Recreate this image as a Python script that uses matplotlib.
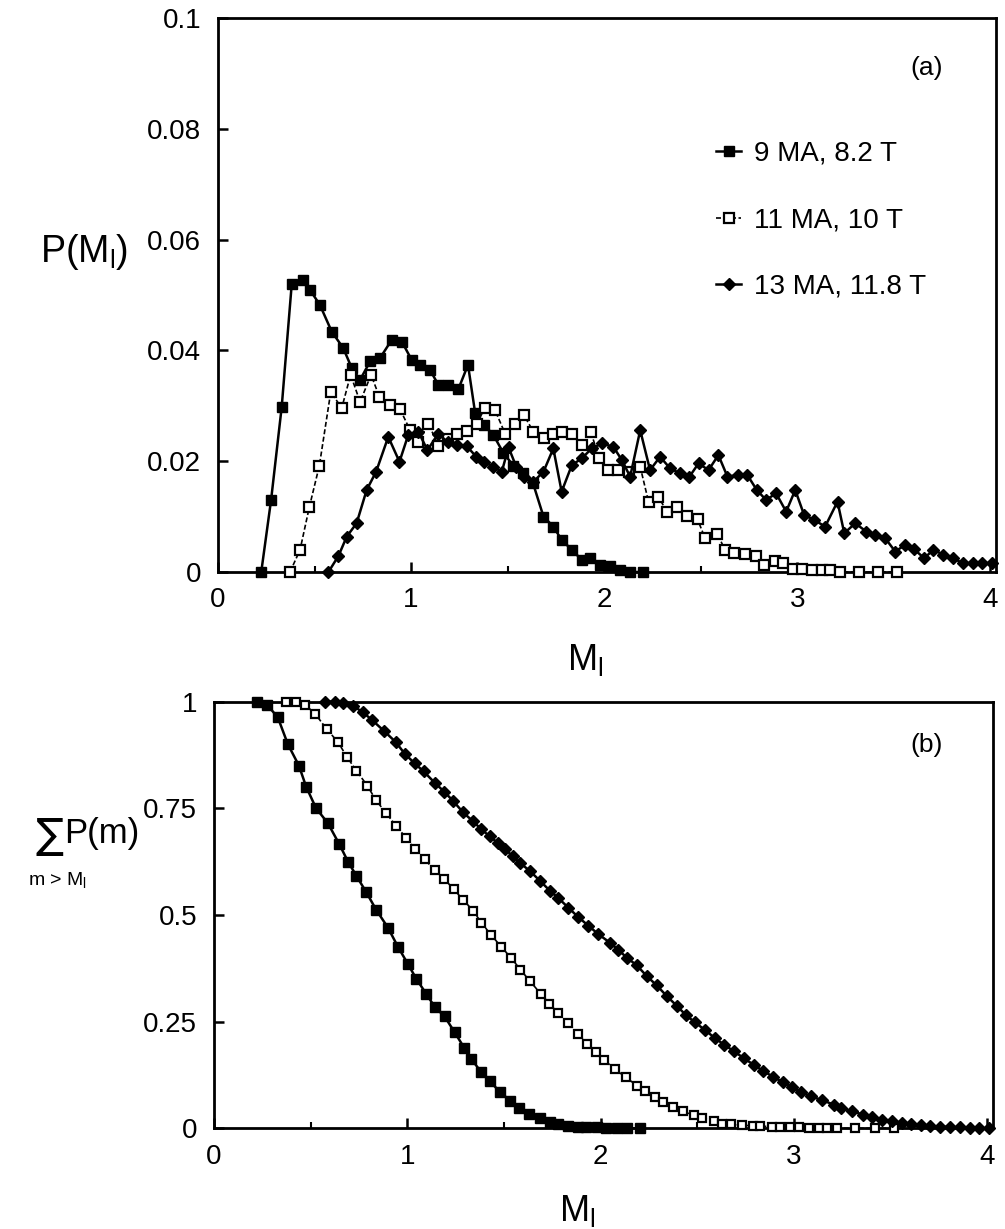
import matplotlib
matplotlib.use("Agg")
import matplotlib.pyplot as plt
from matplotlib.ticker import MultipleLocator, FixedLocator

plt.rcParams['font.family'] = ['Liberation Sans', 'DejaVu Sans']
plt.rcParams['mathtext.fontset'] = 'custom'
plt.rcParams['mathtext.rm'] = 'Liberation Sans'
plt.rcParams['mathtext.it'] = 'Liberation Sans'
plt.rcParams['mathtext.sf'] = 'Liberation Sans'

# ---------------- data ----------------
labels = ["9 MA, 8.2 T", "11 MA, 10 T", "13 MA, 11.8 T"]

# (a) P(M_l)
x_9ma = [0.224, 0.275, 0.330, 0.382, 0.439, 0.477, 0.528, 0.589, 0.649, 0.693,
         0.736, 0.788, 0.839, 0.900, 0.952, 1.003, 1.047, 1.098, 1.141, 1.193,
         1.245, 1.295, 1.332, 1.380, 1.427, 1.478, 1.530, 1.580, 1.632, 1.686,
         1.737, 1.780, 1.833, 1.884, 1.927, 1.979, 2.030, 2.083, 2.135, 2.204]
p_9ma = [0.0, 0.0130, 0.0298, 0.0520, 0.0527, 0.0509, 0.0482, 0.0434, 0.0404, 0.0368,
         0.0347, 0.0380, 0.0386, 0.0419, 0.0416, 0.0383, 0.0374, 0.0365, 0.0338, 0.0338,
         0.0330, 0.0374, 0.0287, 0.0265, 0.0247, 0.0215, 0.0192, 0.0178, 0.0160, 0.0100,
         0.0082, 0.0058, 0.0040, 0.0022, 0.0025, 0.0013, 0.0010, 0.0004, 0.0, 0.0]
c_9ma = [1.0, 0.992, 0.963, 0.900, 0.850, 0.800, 0.750, 0.715, 0.665, 0.625,
         0.592, 0.553, 0.512, 0.470, 0.425, 0.385, 0.350, 0.315, 0.285, 0.262,
         0.225, 0.188, 0.162, 0.133, 0.110, 0.086, 0.065, 0.047, 0.034, 0.023,
         0.015, 0.010, 0.0055, 0.004, 0.003, 0.002, 0.001, 0.0, 0.0, 0.0]

x_11ma = [0.373, 0.425, 0.473, 0.525, 0.584, 0.641, 0.687, 0.736, 0.793, 0.836,
          0.891, 0.943, 0.995, 1.038, 1.090, 1.141, 1.190, 1.240, 1.290, 1.340,
          1.383, 1.435, 1.487, 1.539, 1.585, 1.634, 1.691, 1.735, 1.780, 1.833,
          1.884, 1.931, 1.975, 2.020, 2.074, 2.130, 2.187, 2.230, 2.281, 2.325,
          2.376, 2.428, 2.484, 2.523, 2.587, 2.627, 2.674, 2.730, 2.788, 2.826,
          2.886, 2.929, 2.981, 3.024, 3.076, 3.128, 3.171, 3.223, 3.318, 3.421, 3.517]
p_11ma = [0.0, 0.0040, 0.0117, 0.0192, 0.0325, 0.0296, 0.0356, 0.0307, 0.0356, 0.0316,
          0.0301, 0.0294, 0.0256, 0.0235, 0.0268, 0.0228, 0.0240, 0.0250, 0.0255, 0.0268,
          0.0296, 0.0292, 0.0250, 0.0268, 0.0283, 0.0253, 0.0241, 0.0250, 0.0253, 0.0250,
          0.0229, 0.0253, 0.0205, 0.0184, 0.0184, 0.0180, 0.0190, 0.0127, 0.0136, 0.0109,
          0.0117, 0.0101, 0.0095, 0.0061, 0.0069, 0.0039, 0.0035, 0.0033, 0.0029, 0.0013,
          0.0019, 0.0016, 0.0005, 0.0005, 0.0004, 0.0004, 0.0003, 0.0, 0.0, 0.0, 0.0]
c_11ma = [1.0, 1.0, 0.992, 0.970, 0.935, 0.905, 0.871, 0.838, 0.803, 0.770,
          0.738, 0.708, 0.680, 0.655, 0.630, 0.605, 0.585, 0.560, 0.535, 0.510,
          0.482, 0.452, 0.425, 0.398, 0.372, 0.345, 0.315, 0.292, 0.270, 0.247,
          0.222, 0.198, 0.178, 0.160, 0.138, 0.120, 0.100, 0.088, 0.073, 0.062,
          0.050, 0.040, 0.030, 0.024, 0.016, 0.011, 0.009, 0.007, 0.006, 0.005,
          0.004, 0.003, 0.002, 0.002, 0.001, 0.001, 0.001, 0.0, 0.0, 0.0, 0.0]

x_13ma = [0.572, 0.624, 0.667, 0.718, 0.770, 0.819, 0.882, 0.940, 0.986, 1.038,
          1.085, 1.141, 1.190, 1.237, 1.289, 1.338, 1.380, 1.426, 1.470, 1.505,
          1.545, 1.585, 1.634, 1.686, 1.737, 1.780, 1.833, 1.884, 1.936, 1.988,
          2.048, 2.092, 2.135, 2.187, 2.238, 2.290, 2.342, 2.394, 2.442, 2.489,
          2.541, 2.592, 2.639, 2.691, 2.742, 2.791, 2.839, 2.891, 2.943, 2.990,
          3.036, 3.088, 3.145, 3.209, 3.244, 3.301, 3.358, 3.404, 3.456, 3.508,
          3.560, 3.606, 3.658, 3.706, 3.758, 3.806, 3.858, 3.910, 3.957, 4.009]
p_13ma = [0.0, 0.0029, 0.0064, 0.0088, 0.0148, 0.0181, 0.0244, 0.0199, 0.0248, 0.0253,
          0.0220, 0.0250, 0.0234, 0.0229, 0.0227, 0.0208, 0.0199, 0.0190, 0.0181, 0.0225,
          0.0190, 0.0172, 0.0163, 0.0181, 0.0223, 0.0145, 0.0193, 0.0205, 0.0223, 0.0232,
          0.0226, 0.0202, 0.0172, 0.0256, 0.0184, 0.0208, 0.0187, 0.0178, 0.0172, 0.0196,
          0.0184, 0.0211, 0.0172, 0.0175, 0.0175, 0.0148, 0.0130, 0.0142, 0.0109, 0.0148,
          0.0103, 0.0094, 0.0082, 0.0127, 0.0070, 0.0088, 0.0073, 0.0067, 0.0061, 0.0037,
          0.0049, 0.0041, 0.0025, 0.0040, 0.0031, 0.0025, 0.0016, 0.0016, 0.0016, 0.0016]
c_13ma = [1.0, 1.0, 0.996, 0.990, 0.975, 0.956, 0.930, 0.905, 0.878, 0.855,
          0.836, 0.810, 0.789, 0.767, 0.740, 0.720, 0.702, 0.684, 0.668, 0.655,
          0.637, 0.621, 0.603, 0.580, 0.557, 0.540, 0.517, 0.495, 0.475, 0.455,
          0.435, 0.418, 0.400, 0.382, 0.357, 0.335, 0.310, 0.287, 0.265, 0.248,
          0.230, 0.211, 0.196, 0.180, 0.164, 0.149, 0.135, 0.121, 0.108, 0.097,
          0.085, 0.075, 0.066, 0.055, 0.048, 0.040, 0.032, 0.026, 0.020, 0.016,
          0.012, 0.009, 0.007, 0.005, 0.004, 0.003, 0.002, 0.001, 0.0, 0.0]

xticks = [0, 1, 2, 3, 4]
yticks_a = [0, 0.02, 0.04, 0.06, 0.08, 0.1]
yticklabels_a = ["0", "0.02", "0.04", "0.06", "0.08", "0.1"]
yticks_b = [0, 0.25, 0.5, 0.75, 1]
yticklabels_b = ["0", "0.25", "0.5", "0.75", "1"]

# ---------------- figure ----------------
W, H = 1005, 1229
fig = plt.figure(figsize=(W / 100, H / 100), dpi=100)

def px_axes(l, t, r, b):
    return fig.add_axes([l / W, 1 - b / H, (r - l) / W, (b - t) / H])

ax1 = px_axes(218, 18, 996, 572)
ax2 = px_axes(214, 701.5, 993, 1128.3)

TICKFS = 20
styles = [
    dict(color='black', lw=1.8, marker='s', ms=7, mfc='black', mec='black', mew=1.0),
    dict(color='black', lw=1.2, ls=(0, (3, 1.5)), marker='s', ms=6.5, mfc='white',
         mec='black', mew=1.6),
    dict(color='black', lw=1.8, marker='D', ms=6.2, mfc='black', mec='black', mew=1.0),
]

for ax in (ax1, ax2):
    for sp in ax.spines.values():
        sp.set_linewidth(2.0)
    ax.set_xlim(0, 4.03)
    ax.xaxis.set_major_locator(FixedLocator(xticks))
    ax.xaxis.set_minor_locator(MultipleLocator(0.5))
    ax.tick_params(axis='both', which='major', direction='in', length=7, width=1.8,
                   labelsize=TICKFS, top=False, right=False)
    ax.tick_params(axis='x', which='minor', direction='in', length=4, width=1.5,
                   top=False)
    ax.tick_params(axis='y', which='major', pad=12)
    ax.tick_params(axis='x', which='major', pad=11)
    ax.set_xticklabels([str(v) for v in xticks])

# panel (a)
lines = []
for xs, ys, st, lab in zip((x_9ma, x_11ma, x_13ma), (p_9ma, p_11ma, p_13ma), styles, labels):
    ln, = ax1.plot(xs, ys, label=lab, clip_on=False, zorder=3, **st)
    lines.append(ln)
ax1.set_ylim(0, 0.1)
ax1.set_yticks(yticks_a)
ax1.set_yticklabels(yticklabels_a)
ax1.text(927 / W, 1 - 68 / H, "(a)", transform=fig.transFigure, fontsize=19,
         ha='center', va='center')
leg = ax1.legend(handles=lines, loc='upper left', bbox_to_anchor=(716 / W, 1 - 141 / H),
                 bbox_transform=fig.transFigure, frameon=False, fontsize=TICKFS,
                 handlelength=0.9, handletextpad=0.45, labelspacing=1.45,
                 borderpad=0, borderaxespad=0, numpoints=1)

# panel (b)
for xs, ys, st in zip((x_9ma, x_11ma, x_13ma), (c_9ma, c_11ma, c_13ma), styles):
    st2 = dict(st)
    st2['ms'] = st['ms'] - 0.5
    ax2.plot(xs, ys, clip_on=False, zorder=3, **st2)
ax2.set_ylim(0, 1)
ax2.set_yticks(yticks_b)
ax2.set_yticklabels(yticklabels_b)
ax2.text(927 / W, 1 - 745 / H, "(b)", transform=fig.transFigure, fontsize=19,
         ha='center', va='center')

# axis labels
fig.text(84 / W, 1 - 252 / H, r"P(M$_{\mathregular{l}}$)", fontsize=27,
         ha='center', va='center')
fig.text(585 / W, 1 - 660 / H, r"M$_{\mathregular{l}}$", fontsize=26,
         ha='center', va='center')
fig.text(577 / W, 1 - 1211 / H, r"M$_{\mathregular{l}}$", fontsize=26,
         ha='center', va='center')
fig.text(49 / W, 1 - 836 / H, "\u2211", fontsize=30, ha='center', va='center',
         family=['DejaVu Sans'])
fig.text(64 / W, 1 - 834 / H, "P(m)", fontsize=25, ha='left', va='center')
fig.text(58 / W, 1 - 880 / H, r"m > M$_{\mathregular{l}}$", fontsize=14,
         ha='center', va='center')

fig.savefig("out.png", dpi=100)
